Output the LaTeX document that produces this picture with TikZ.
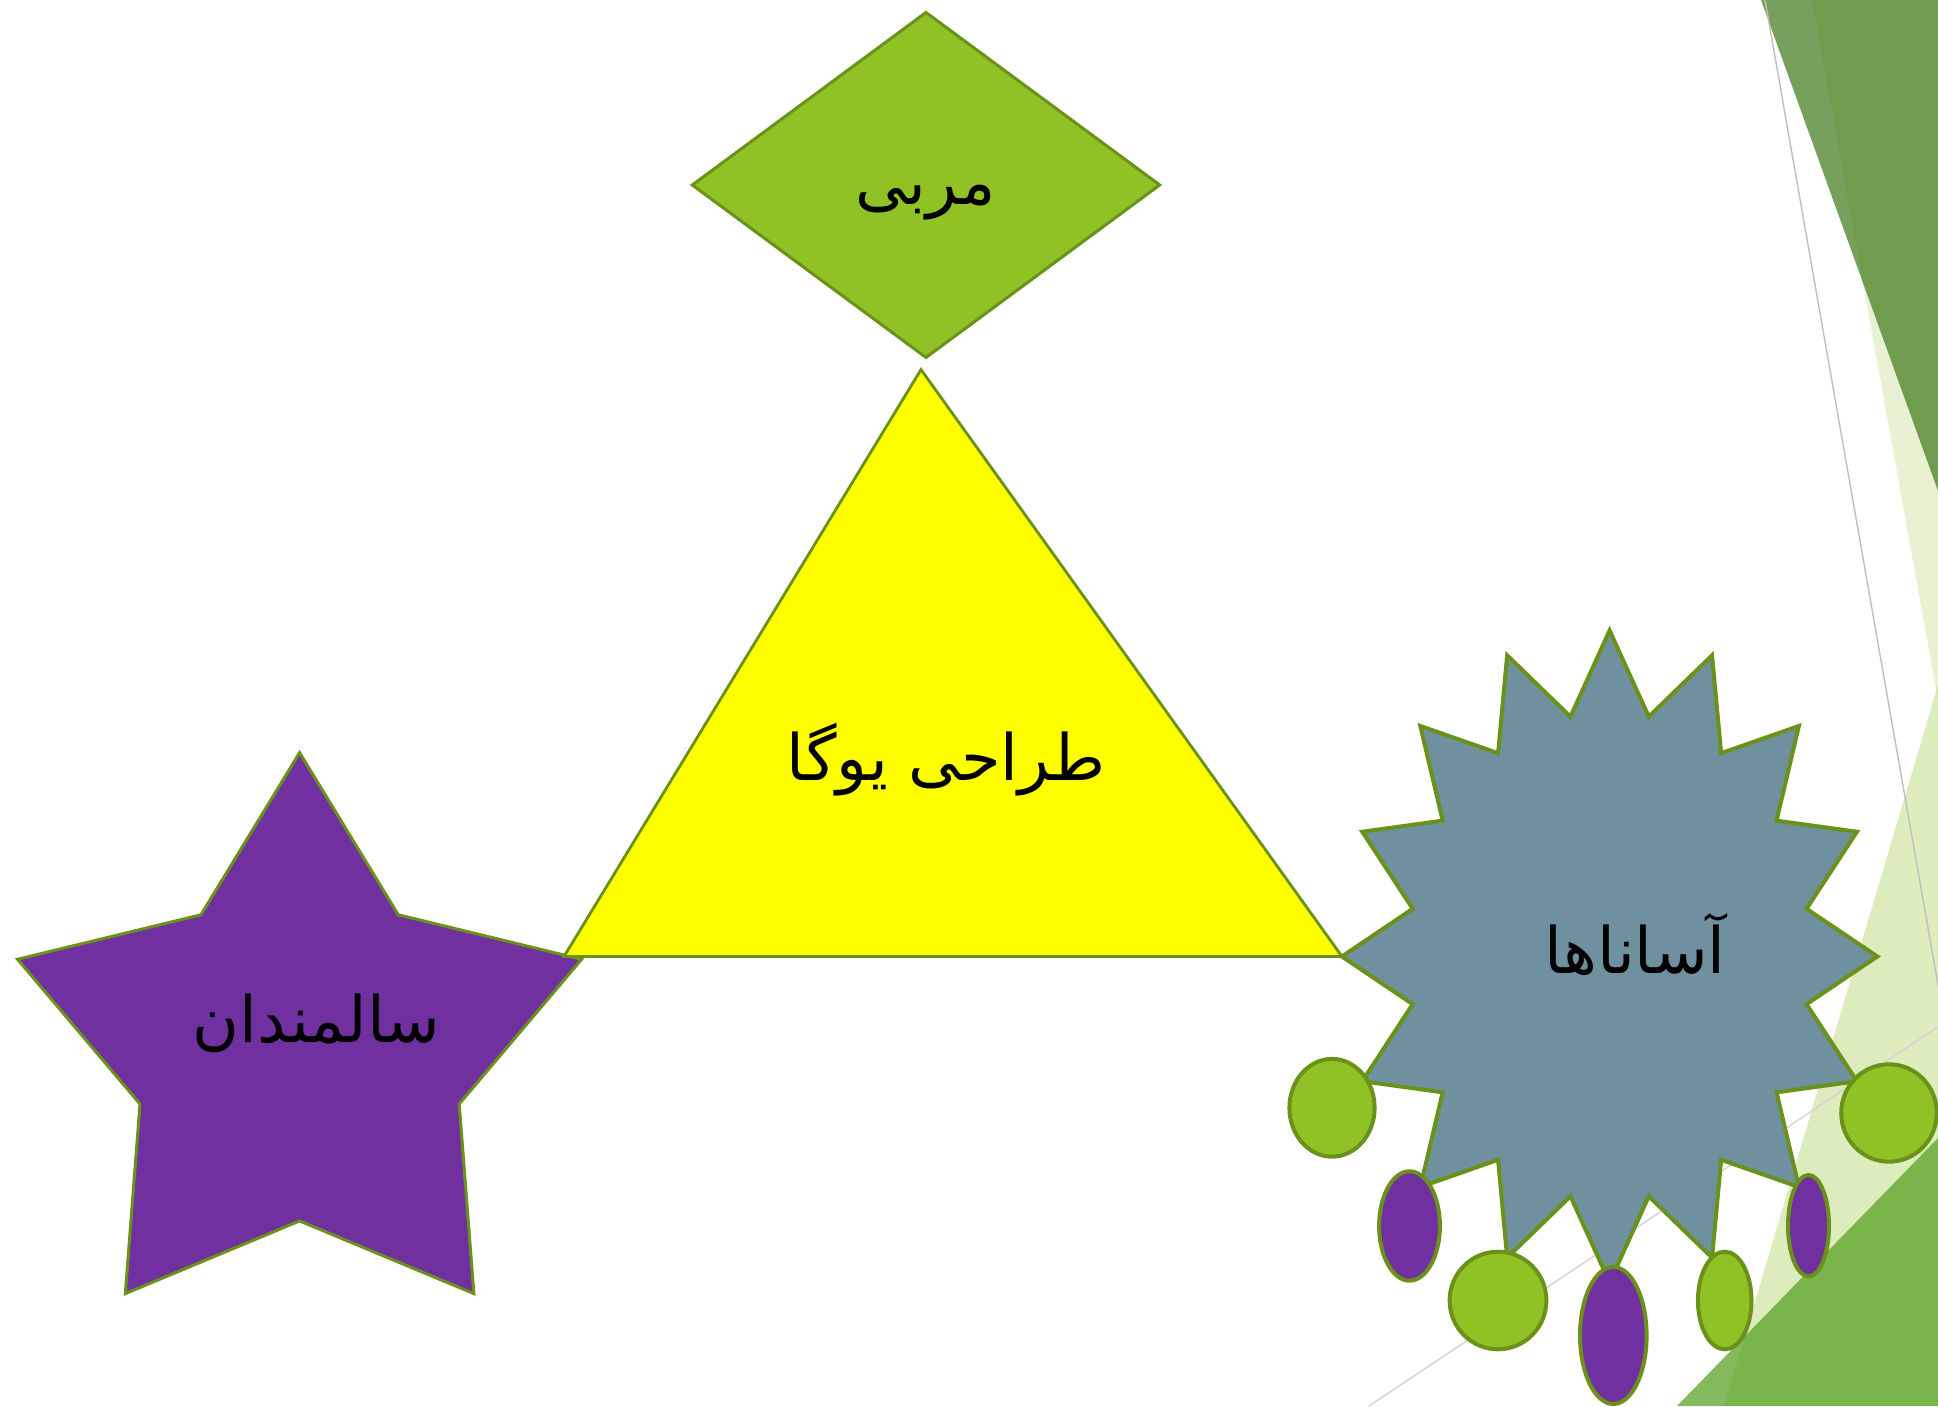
\documentclass[tikz,border=0pt]{standalone}
\usepackage{fontspec}
\newfontfamily\arabicfont[Script=Arabic]{DejaVu Sans}
\TeXXeTstate=1
\usetikzlibrary{calc}

\definecolor{edgegreen}{HTML}{6A9119}
\definecolor{leafgreen}{HTML}{90C226}
\definecolor{deepgreen}{HTML}{54A021}
\definecolor{darkgreen}{HTML}{3F7819}
\definecolor{elderpurple}{HTML}{7030A0}
\definecolor{asanagrey}{HTML}{6E909F}
\definecolor{yogayellow}{HTML}{FFFF00}

\tikzset{
	outline/.style={draw=edgegreen, line width=#1},
	outline/.default=3pt,
	farsi/.style={font=\arabicfont\fontsize{64}{77}\selectfont, inner sep=0pt, text=black},
	facet/.style={draw=#1, line width=1.4pt},
}

\begin{document}
\begin{tikzpicture}[x=1pt, y=1pt]

	\useasboundingbox (0,0) rectangle (1938,1406);
	\fill[white] (0,0) rectangle (1938,1406);

	% background facets along the right edge
	\fill[leafgreen, opacity=0.2] (1812,1406) -- (1938,1406) -- (1938,706) -- cycle;
	\fill[leafgreen, opacity=0.3] (1938,721) -- (1724,0) -- (1938,0) -- cycle;
	\fill[darkgreen, opacity=0.7] (1761,1406) -- (1938,1406) -- (1938,915) -- cycle;
	\fill[deepgreen, opacity=0.72] (1938,268) -- (1677,0) -- (1938,0) -- cycle;

	\coordinate (T1) at (1765,1406);
	\coordinate (T2) at (1938,421);
	\coordinate (B1) at (1369,0);
	\coordinate (B2) at (1938,379);
	\draw[facet=black!25] (T1) -- (T2);
	\draw[facet=black!17] (B1) -- (B2);

	% centres of the shapes
	\coordinate (Eld) at (299.6,354.3);
	\coordinate (Dia) at (926,1221);
	\coordinate (Ast) at (1609.6,449.5);

	% five-pointed star, outer and inner points alternate
	\begin{scope}[shift={(Eld)}, xscale=296.5, yscale=299]
		\draw[outline, fill=elderpurple] (90:1)
			\foreach \k [evaluate=\k as \r using {1-0.434*mod(\k,2)}] in {1,...,9} { -- ({90+36*\k}:\r) }
			-- cycle;
	\end{scope}

	% triangle
	\coordinate (TriTop) at (921,1036.4);
	\coordinate (TriL) at (564,449.5);
	\coordinate (TriR) at (1342,449.5);
	\draw[outline=2.8pt, fill=yogayellow] (TriTop) -- (TriR) -- (TriL) -- cycle;

	% diamond
	\draw[outline, fill=leafgreen] ($(Dia)+(0,172.5)$) -- ($(Dia)+(233.7,0)$)
		-- ($(Dia)+(0,-172.5)$) -- ($(Dia)+(-233.7,0)$) -- cycle;

	% sixteen-pointed burst
	\begin{scope}[shift={(Ast)}, xscale=267.7, yscale=326]
		\draw[outline=4pt, fill=asanagrey] (0:1)
			\foreach \k [evaluate=\k as \r using {1-0.25*mod(\k,2)}] in {1,...,31} { -- ({11.25*\k}:\r) }
			-- cycle;
	\end{scope}

	% beads round the burst
	\coordinate (G1) at (1332,298.2);
	\coordinate (P1) at (1409.5,180);
	\coordinate (G2) at (1498,105.5);
	\coordinate (P2) at (1613.3,70.5);
	\coordinate (G3) at (1724.7,105.5);
	\coordinate (P3) at (1808.5,180.3);
	\coordinate (G4) at (1889,293);
	\draw[outline=4pt, fill=leafgreen] (G1) ellipse [x radius=42.6, y radius=48.9];
	\draw[outline=4pt, fill=elderpurple] (P1) ellipse [x radius=30.4, y radius=54.7];
	\draw[outline=4pt, fill=leafgreen] (G2) ellipse [x radius=48.4, y radius=48.8];
	\draw[outline=4pt, fill=elderpurple] (P2) ellipse [x radius=33.3, y radius=68.5];
	\draw[outline=4pt, fill=leafgreen] (G3) ellipse [x radius=26.8, y radius=48.8];
	\draw[outline=4pt, fill=elderpurple] (P3) ellipse [x radius=20.5, y radius=50.7];
	\draw[outline=4pt, fill=leafgreen] (G4) ellipse [x radius=47.8, y radius=48.7];

	% labels
	\node[farsi] (coach) at (925.5,1203) {\beginR مربی\endR};
	\node[farsi] (design) at (946,646) {\beginR طراحی یوگا\endR};
	\node[farsi] (elders) at (316.5,383) {\beginR سالمندان\endR};
	\node[farsi] (asanas) at (1635,461) {\beginR آساناها\endR};

\end{tikzpicture}
\end{document}
